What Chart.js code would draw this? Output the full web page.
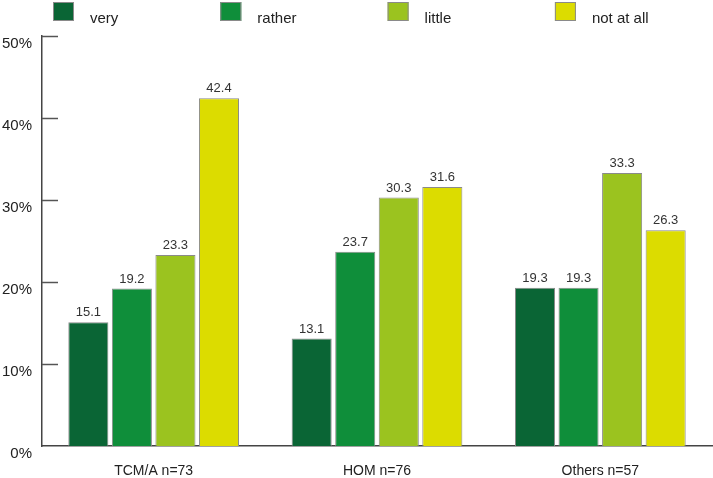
<!DOCTYPE html>
<html>
<head>
<meta charset="utf-8">
<script src="https://cdn.jsdelivr.net/npm/chart.js@4.4.0/dist/chart.umd.min.js"></script>
<style>
  html, body { margin: 0; padding: 0; background: #fff; }
  #wrap { width: 713px; height: 478px; position: relative; }
</style>
</head>
<body>
<div id="wrap"><canvas id="myChart" width="713" height="478"></canvas></div>
<script>
// data
var groups = ['TCM/A n=73', 'HOM n=76', 'Others n=57']
var seriesNames = ['very', 'rather', 'little', 'not at all']
var very = [15.1, 13.1, 19.3]
var rather = [19.2, 23.7, 19.3]
var little = [23.3, 30.3, 33.3]
var notAtAll = [42.4, 31.6, 26.3]
var yTicks = [0, 10, 20, 30, 40, 50]
var colors = ['#0a6535', '#0f8e3a', '#9bc31f', '#dcdc00']

var FONT = '"Liberation Sans", Arial, sans-serif'

// legend drawn by hand so the items sit at even spacing
var legendPlugin = {
  id: 'evenLegend',
  afterDraw: function(chart) {
    var ctx = chart.ctx
    chart.data.datasets.forEach(function(ds, i) {
      var x0 = 53 + i * 167.3
      ctx.save()
      ctx.fillStyle = ds.backgroundColor
      ctx.fillRect(x0, 2, 21, 19)
      ctx.strokeStyle = '#8a8a8a'
      ctx.lineWidth = 1
      ctx.strokeRect(x0 + 0.5, 2.5, 20, 18)
      ctx.font = '15px ' + FONT
      ctx.fillStyle = '#222'
      ctx.textBaseline = 'alphabetic'
      ctx.fillText(ds.label, x0 + 37, 23)
      ctx.restore()
    })
  }
}

// value labels on top of the bars + inward tick marks on the y axis
var labelPlugin = {
  id: 'barLabels',
  afterDatasetsDraw: function(chart) {
    var ctx = chart.ctx
    ctx.save()
    ctx.font = '13px ' + FONT
    ctx.fillStyle = '#333'
    ctx.textAlign = 'center'
    ctx.textBaseline = 'bottom'
    chart.data.datasets.forEach(function(ds, i) {
      var meta = chart.getDatasetMeta(i)
      meta.data.forEach(function(bar, j) {
        ctx.fillText(ds.data[j].toFixed(1), bar.x, bar.y - 3)
      })
    })
    var y = chart.scales.y
    ctx.strokeStyle = '#555'
    ctx.lineWidth = 1.5
    yTicks.forEach(function(t) {
      if (t == 0) return
      var py = Math.round(y.getPixelForValue(t)) + 0.5
      ctx.beginPath()
      ctx.moveTo(y.right, py)
      ctx.lineTo(y.right + 16, py)
      ctx.stroke()
    })
    ctx.restore()
  }
}

var allData = [very, rather, little, notAtAll]

new Chart('myChart', {
  type: 'bar',
  data: {
    labels: groups,
    datasets: allData.map(function(d, i) {
      return {
        label: seriesNames[i],
        data: d,
        backgroundColor: colors[i],
        borderColor: '#8a8a8a',
        borderWidth: 1,
        categoryPercentage: 0.78,
        barPercentage: 0.92
      }
    })
  },
  options: {
    responsive: false,
    animation: false,
    devicePixelRatio: 1,
    layout: { padding: { top: 36, right: 1, left: 0, bottom: 0 } },
    plugins: {
      legend: { display: false },
      tooltip: { enabled: false }
    },
    scales: {
      x: {
        grid: { display: false, drawTicks: false },
        border: { display: true, color: '#444', width: 1.5 },
        ticks: { color: '#222', font: { family: FONT, size: 14 }, padding: 17, maxRotation: 0 },
        afterFit: function(s) { s.height = 32 }
      },
      y: {
        min: 0,
        max: 50,
        grid: { display: false, drawTicks: false },
        border: { display: true, color: '#444', width: 1.5 },
        ticks: {
          stepSize: 10,
          color: '#222',
          padding: 10,
          labelOffset: 8,
          font: { family: FONT, size: 15 },
          callback: function(v) { return v + '%' }
        },
        afterFit: function(s) { s.width = 42 }
      }
    }
  },
  plugins: [legendPlugin, labelPlugin]
})
</script>
</body>
</html>
